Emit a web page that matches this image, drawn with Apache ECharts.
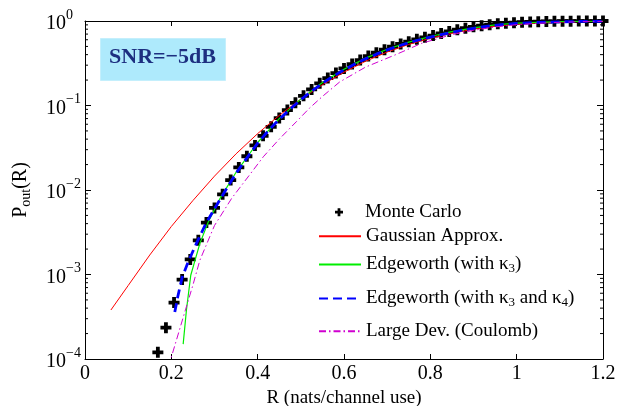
<!DOCTYPE html>
<html>
<head>
<meta charset="utf-8">
<script src="https://cdn.jsdelivr.net/npm/echarts@6/dist/echarts.min.js"></script>
<style>
  html, body { margin: 0; padding: 0; background: #fff; }
  #chart { width: 617px; height: 406px; }
</style>
</head>
<body>
<div id="chart"></div>
<script>
// Outage probability vs. rate at SNR = -5 dB

const SERIF = '"Liberation Serif", "Times New Roman", Times, serif';

// Monte Carlo simulation points
const mcRate = [0.1688, 0.1875, 0.2063, 0.225, 0.2438, 0.2625, 0.2813, 0.3, 0.3188, 0.3375,
  0.3563, 0.375, 0.3938, 0.4125, 0.4313, 0.45, 0.4688, 0.4875, 0.5063, 0.525,
  0.5438, 0.5625, 0.5813, 0.6, 0.6188, 0.6375, 0.6563, 0.675, 0.6938, 0.7125,
  0.7313, 0.75, 0.7688, 0.7875, 0.8063, 0.825, 0.8438, 0.8625, 0.8813, 0.9,
  0.9188, 0.9375, 0.9563, 0.975, 0.9938, 1.0125, 1.0313, 1.05, 1.0688, 1.0875,
  1.1063, 1.125, 1.1438, 1.1625, 1.1813, 1.2];
const mcPout = [1.2e-4, 2.35e-4, 4.65e-4, 8.7e-4, 1.51e-3, 2.54e-3, 4.12e-3, 6.14e-3, 8.9e-3, 0.0131,
  0.0185, 0.0251, 0.0337, 0.0438, 0.0559, 0.0709, 0.0882, 0.1076, 0.130, 0.155,
  0.183, 0.211, 0.242, 0.275, 0.309, 0.345, 0.385, 0.421, 0.457, 0.496,
  0.534, 0.569, 0.607, 0.641, 0.672, 0.712, 0.753, 0.789, 0.822, 0.853,
  0.88, 0.905, 0.925, 0.942, 0.956, 0.967, 0.976, 0.982, 0.987, 0.991,
  0.994, 0.996, 0.997, 0.998, 0.999, 0.9995];

// Gaussian approximation
const gaussRate = [0.06, 0.10, 0.15, 0.20, 0.25, 0.30, 0.35, 0.40, 0.45, 0.50, 0.55, 0.60,
  0.65, 0.70, 0.75, 0.80, 0.85, 0.90, 0.95, 1.00, 1.05, 1.10, 1.15, 1.20];
const gaussPout = [3.8e-4, 7.4e-4, 1.7e-3, 3.7e-3, 7.5e-3, 0.0146, 0.0268, 0.0465, 0.0764, 0.119, 0.176, 0.248,
  0.334, 0.429, 0.528, 0.626, 0.716, 0.80, 0.865, 0.915, 0.948, 0.970, 0.984, 0.992];

// Edgeworth expansion with third cumulant
const edge3Rate = [0.2274, 0.235, 0.245, 0.255, 0.266, 0.2855, 0.3125, 0.35, 0.40, 0.45, 0.50, 0.55,
  0.60, 0.65, 0.70, 0.75, 0.80, 0.85, 0.90, 0.95, 1.00, 1.10, 1.20];
const edge3Pout = [1.5e-4, 3.8e-4, 9.8e-4, 1.48e-3, 2.32e-3, 4.19e-3, 7.9e-3, 0.0162, 0.0365, 0.070, 0.119, 0.187,
  0.269, 0.364, 0.463, 0.562, 0.655, 0.748, 0.83, 0.9, 0.945, 0.982, 0.996];

// Edgeworth expansion with third and fourth cumulants
const edge34Rate = [0.208, 0.215, 0.225, 0.24, 0.26, 0.28, 0.30, 0.325, 0.35, 0.375, 0.40, 0.425,
  0.45, 0.475, 0.50, 0.525, 0.55, 0.575, 0.60, 0.625, 0.65, 0.675, 0.70, 0.725,
  0.75, 0.775, 0.80, 0.825, 0.85, 0.875, 0.90, 0.925, 0.95, 0.975, 1.00, 1.05,
  1.10, 1.15, 1.20];
const edge34Pout = [3.6e-4, 5.5e-4, 9.2e-4, 1.45e-3, 2.45e-3, 4.0e-3, 6.0e-3, 9.8e-3, 0.0158, 0.0240, 0.0358, 0.0505,
  0.0685, 0.0905, 0.117, 0.148, 0.183, 0.222, 0.264, 0.309, 0.357, 0.405, 0.455, 0.505,
  0.553, 0.60, 0.645, 0.69, 0.735, 0.78, 0.82, 0.86, 0.89, 0.915, 0.935, 0.962,
  0.978, 0.988, 0.994];

// Large deviations (Coulomb)
const ldRate = [0.195, 0.20, 0.2274, 0.25, 0.266, 0.30, 0.34, 0.38, 0.413, 0.45, 0.49, 0.52,
  0.55, 0.59, 0.65, 0.72, 0.78, 0.85, 0.90, 0.95, 1.00, 1.05, 1.10, 1.15, 1.20];
const ldPout = [8e-5, 1.05e-4, 3.1e-4, 7.5e-4, 1.47e-3, 3.8e-3, 8.0e-3, 0.0148, 0.0247, 0.040, 0.0646, 0.093,
  0.128, 0.19, 0.285, 0.40, 0.545, 0.69, 0.775, 0.85, 0.905, 0.94, 0.965, 0.982, 0.99];

const seriesNames = ['Monte Carlo', 'Gaussian Approx.', 'Edgeworth (with κ3)',
  'Edgeworth (with κ3 and κ4)', 'Large Dev. (Coulomb)'];

const pairs = (xs, ys) => xs.map((x, i) => [x, ys[i]]);

// minor ticks of the log axis (2..9 within each decade)
const minorTickValues = [];
for (let e = -4; e < 0; e++) {
  for (let m = 2; m <= 9; m++) minorTickValues.push(m * Math.pow(10, e));
}

const PLUS = 'path://M3.6,0h3.8v3.6h3.6v3.8h-3.6v3.6h-3.8v-3.6h-3.6v-3.8h3.6z';

const legendRich = {
  t: { fontFamily: SERIF, fontSize: 19, color: '#000' },
  s: { fontFamily: SERIF, fontSize: 13, color: '#000', padding: [8, 0, 0, 0], verticalAlign: 'top' }
};
const legendFormatter = name =>
  '{t|' + name.replace(/κ(\d)/g, 'κ}{s|$1}{t|') + '}';

// vertical centres of legend rows
const legendRowY = [212.7, 237.7, 266, 300, 332.7];

const legends = seriesNames.map((name, i) => {
  const first = i === 0;
  return {
    data: [name],
    left: first ? 335 : 318,
    top: legendRowY[i] - (first ? 10 : 11),
    padding: 0,
    itemWidth: first ? 8 : 42,
    itemHeight: first ? 8 : 12,
    itemGap: 0,
    selectedMode: false,
    formatter: legendFormatter,
    itemStyle: first ? {} : { opacity: 0 },
    textStyle: { rich: legendRich, padding: [0, 0, 0, first ? 17 : 0] }
  };
});

const axisLineStyle = { show: true, onZero: false, lineStyle: { color: '#000', width: 1 } };

const chart = echarts.init(document.getElementById('chart'), null, { renderer: 'canvas' });

chart.setOption({
  animation: false,
  backgroundColor: '#fff',
  grid: { left: 85, right: 14, top: 21, bottom: 47, containLabel: false, outerBoundsMode: 'none' },
  legend: legends,
  xAxis: [{
    type: 'value', min: 0, max: 1.2, interval: 0.2, position: 'bottom',
    name: 'R (nats/channel use)', nameLocation: 'middle', nameGap: 24,
    nameTextStyle: { fontFamily: SERIF, fontSize: 19, color: '#000' },
    axisLine: axisLineStyle,
    axisTick: { show: true, inside: true, length: 5, lineStyle: { color: '#000' } },
    axisLabel: { fontFamily: SERIF, fontSize: 20, color: '#000', margin: 5 },
    splitLine: { show: false }
  }, {
    type: 'value', min: 0, max: 1.2, interval: 0.2, position: 'top',
    axisLine: axisLineStyle,
    axisTick: { show: true, inside: true, length: 5, lineStyle: { color: '#000' } },
    axisLabel: { show: false },
    splitLine: { show: false }
  }],
  yAxis: [{
    type: 'log', logBase: 10, min: 1e-4, max: 1, interval: 1, position: 'left',
    name: '{p|P}{s|out}{p|(R)}', nameLocation: 'middle', nameGap: 52, nameRotate: 90,
    nameTextStyle: {
      rich: {
        p: { fontFamily: SERIF, fontSize: 20, color: '#000', verticalAlign: 'top' },
        s: { fontFamily: SERIF, fontSize: 14, color: '#000', padding: [8, 0, 0, 0], verticalAlign: 'top' }
      }
    },
    axisLine: axisLineStyle,
    axisTick: { show: true, inside: true, length: 6, lineStyle: { color: '#000' } },
    axisLabel: {
      align: 'left', margin: 39,
      formatter: v => {
        const e = Math.round(Math.log10(v));
        return '{b|10}{e|' + (e === 0 ? '0' : '\u2212' + (-e)) + '}';
      },
      rich: {
        b: { fontFamily: SERIF, fontSize: 20, color: '#000', padding: [6, 0, 0, 0] },
        e: { fontFamily: SERIF, fontSize: 14, color: '#000', verticalAlign: 'top' }
      }
    },
    splitLine: { show: false }
  }, {
    type: 'log', logBase: 10, min: 1e-4, max: 1, interval: 1, position: 'right',
    axisLine: axisLineStyle,
    axisTick: { show: true, inside: true, length: 6, lineStyle: { color: '#000' } },
    axisLabel: { show: false },
    splitLine: { show: false }
  }],
  graphic: [{
    type: 'group', left: 100, top: 38,
    children: [{
      type: 'rect', shape: { x: 0, y: 0, width: 125, height: 42 },
      style: { fill: '#aeeafc', stroke: '#c4effc', lineWidth: 1 }
    }, {
      type: 'text', x: 62, y: 19,
      style: {
        text: 'SNR=\u22125dB', fontFamily: SERIF, fontWeight: 'bold', fontSize: 22,
        fill: '#1d2f80', align: 'center', verticalAlign: 'middle'
      }
    }]
  }],
  series: [{
    type: 'custom', name: 'minor ticks', silent: true, clip: false,
    xAxisIndex: 0, yAxisIndex: 0,
    data: minorTickValues.map(v => [0, v]),
    renderItem: (params, api) => {
      const v = api.value(1);
      const pl = api.coord([0, v]);
      const pr = api.coord([1.2, v]);
      const st = { stroke: '#000', lineWidth: 1 };
      return {
        type: 'group', children: [
          { type: 'line', shape: { x1: pl[0], y1: pl[1], x2: pl[0] + 3, y2: pl[1] }, style: st },
          { type: 'line', shape: { x1: pr[0], y1: pr[1], x2: pr[0] - 3, y2: pr[1] }, style: st }
        ]
      };
    }
  }, {
    type: 'scatter', name: seriesNames[0],
    data: pairs(mcRate, mcPout),
    symbol: PLUS, symbolSize: 11,
    itemStyle: { color: '#000', opacity: 1 }
  }, {
    type: 'line', name: seriesNames[1],
    data: pairs(gaussRate, gaussPout),
    symbol: 'none', lineStyle: { color: '#ff0000', width: 1 },
    itemStyle: { color: '#ff0000' }
  }, {
    type: 'line', name: seriesNames[2],
    data: pairs(edge3Rate, edge3Pout),
    symbol: 'none', lineStyle: { color: '#00ee00', width: 1.2 },
    itemStyle: { color: '#00ee00' }
  }, {
    type: 'line', name: seriesNames[3],
    data: pairs(edge34Rate, edge34Pout),
    symbol: 'none', lineStyle: { color: '#0000ff', width: 2.8, type: [9, 5] },
    itemStyle: { color: '#0000ff' }
  }, {
    type: 'line', name: seriesNames[4],
    data: pairs(ldRate, ldPout),
    symbol: 'none', lineStyle: { color: '#d000d0', width: 1, type: [7, 3, 1.5, 3] },
    itemStyle: { color: '#d000d0' }
  }]
});
</script>
</body>
</html>
